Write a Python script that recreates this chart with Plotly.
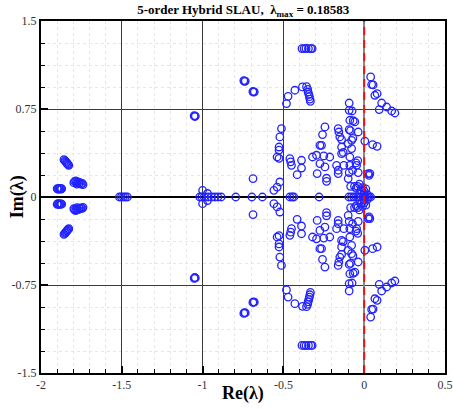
import plotly.graph_objects as go

# Eigenvalues: upper half-plane
upper_re = [-1.858, -1.852, -1.848, -1.843, -1.840, -1.836, -1.832, -1.828,
            -1.900, -1.896, -1.890, -1.886, -1.882, -1.876, -1.872,
            -1.797, -1.792, -1.785, -1.780, -1.778, -1.770, -1.765, -1.758, -1.752, -1.745, -1.740,
            -1.052, -1.049, -1.045, -0.745, -0.741, -0.736, -0.689, -0.685, -0.680, -0.688, -1.000, -0.970,
            -0.385, -0.372, -0.360, -0.345, -0.330, -0.322,
            -0.481, -0.471, -0.429, -0.382, -0.357, -0.350, -0.347, -0.343, -0.339, -0.336, -0.333,
            0.040, 0.046, 0.055, 0.066, 0.080, 0.108, 0.093, 0.139, 0.170, 0.190,
            0.004, 0.052, 0.080,
            -0.093, -0.093, -0.075, -0.089, -0.068, -0.058,
            -0.093, -0.085, -0.037, -0.078, -0.070,
            -0.512, -0.522, -0.527, -0.527, -0.539, -0.527, -0.522, -0.539, -0.559,
            -0.460, -0.450, -0.388, -0.388, -0.415, -0.455,
            -0.320, -0.295, -0.243, -0.258, -0.274, -0.264,
            -0.250, -0.213, -0.274, -0.243, -0.291, -0.233,
            -0.161, -0.151, -0.157, -0.140, -0.140, -0.140, -0.130, -0.171, -0.161, -0.126, -0.161,
            -0.099, -0.078, -0.089, -0.089, -0.072, -0.093, -0.047, -0.037, -0.051, -0.040,
            -0.233, -0.099, -0.084, -0.060, -0.050, -0.040,
            -0.030, -0.020, -0.010, 0.000, 0.010,
            0.025, 0.035, 0.030,
            -0.028, 0.000, 0.020]
upper_im = [0.318, 0.310, 0.303, 0.296, 0.288, 0.282, 0.276, 0.270,
            0.072, 0.066, 0.074, 0.067, 0.073, 0.068, 0.071,
            0.122, 0.132, 0.138, 0.125, 0.110, 0.128, 0.115, 0.122, 0.110, 0.116, 0.106,
            0.693, 0.686, 0.690, 0.992, 0.985, 0.988, 0.899, 0.893, 0.896, 0.157, 0.057, 0.030,
            1.265, 1.265, 1.266, 1.265, 1.265, 1.265,
            0.796, 0.858, 0.910, 0.938, 0.940, 0.918, 0.895, 0.875, 0.855, 0.835, 0.815,
            1.023, 0.958, 0.955, 0.867, 0.881, 0.801, 0.745, 0.767, 0.733, 0.716,
            0.477, 0.447, 0.432,
            0.801, 0.739, 0.733, 0.654, 0.650, 0.640,
            0.575, 0.565, 0.554, 0.483, 0.500,
            0.583, 0.512, 0.426, 0.400, 0.341, 0.330, 0.128, 0.085, 0.057,
            0.327, 0.270, 0.313, 0.247, 0.190, 0.300,
            0.341, 0.356, 0.597, 0.532, 0.440, 0.440,
            0.350, 0.341, 0.285, 0.256, 0.200, 0.134,
            0.583, 0.512, 0.554, 0.489, 0.426, 0.370, 0.380, 0.270, 0.200, 0.270, 0.228,
            0.455, 0.413, 0.341, 0.270, 0.228, 0.208, 0.270, 0.208, 0.290, 0.310,
            0.160, 0.157, 0.091, 0.090, 0.075, 0.090,
            0.110, 0.060, 0.080, 0.050, 0.070,
            0.200, 0.200, 0.185,
            0.030, 0.025, 0.020]

# Eigenvalues on the real axis
real_re = [-1.515, -1.503, -1.490, -1.478, -1.465,
           -1.018, -1.005, -0.990, -0.965, -0.945, -0.925, -0.905, -0.885,
           -0.795, -0.695, -0.630, -0.460, -0.445, -0.435, -0.279,
           -0.095, -0.080, -0.065, -0.050, -0.035, -0.020, -0.008, 0.005, 0.018, 0.030, 0.040]
real_im = [0.0] * 31

# Lower half-plane
lower_re = [-1.858, -1.852, -1.848, -1.843, -1.840, -1.836, -1.832, -1.828,
            -1.900, -1.896, -1.890, -1.886, -1.882, -1.876, -1.872,
            -1.797, -1.792, -1.785, -1.780, -1.778, -1.770, -1.765, -1.758, -1.752, -1.745, -1.740,
            -1.052, -1.049, -1.045, -0.745, -0.741, -0.736, -0.689, -0.685, -0.680, -0.688, -1.000, -0.970,
            -0.385, -0.372, -0.360, -0.345, -0.330, -0.322,
            -0.481, -0.471, -0.429, -0.382, -0.357, -0.350, -0.347, -0.343, -0.339, -0.336, -0.333,
            0.040, 0.046, 0.055, 0.066, 0.080, 0.108, 0.093, 0.139, 0.170, 0.190,
            0.004, 0.052, 0.080,
            -0.093, -0.093, -0.075, -0.089, -0.068, -0.058,
            -0.093, -0.085, -0.037, -0.078, -0.070,
            -0.512, -0.522, -0.527, -0.527, -0.539, -0.527, -0.522, -0.539, -0.559,
            -0.460, -0.450, -0.388, -0.388, -0.415, -0.455,
            -0.320, -0.295, -0.243, -0.258, -0.274, -0.264,
            -0.250, -0.213, -0.274, -0.243, -0.291, -0.233,
            -0.161, -0.151, -0.157, -0.140, -0.140, -0.140, -0.130, -0.171, -0.161, -0.126, -0.161,
            -0.099, -0.078, -0.089, -0.089, -0.072, -0.093, -0.047, -0.037, -0.051, -0.040,
            -0.233, -0.099, -0.084, -0.060, -0.050, -0.040,
            -0.030, -0.020, -0.010, 0.000, 0.010,
            0.025, 0.035, 0.030,
            -0.028, 0.000, 0.020]
lower_im = [-0.318, -0.310, -0.303, -0.296, -0.288, -0.282, -0.276, -0.270,
            -0.062, -0.056, -0.064, -0.057, -0.063, -0.058, -0.061,
            -0.100, -0.110, -0.116, -0.104, -0.090, -0.108, -0.095, -0.102, -0.092, -0.097, -0.088,
            -0.693, -0.686, -0.690, -0.992, -0.985, -0.988, -0.899, -0.893, -0.896, -0.150, -0.057, -0.030,
            -1.265, -1.265, -1.266, -1.265, -1.265, -1.265,
            -0.792, -0.853, -0.909, -0.932, -0.935, -0.915, -0.893, -0.873, -0.853, -0.833, -0.813,
            -1.023, -0.958, -0.955, -0.867, -0.881, -0.801, -0.745, -0.767, -0.733, -0.716,
            -0.454, -0.440, -0.426,
            -0.801, -0.739, -0.733, -0.654, -0.650, -0.640,
            -0.575, -0.565, -0.554, -0.483, -0.500,
            -0.583, -0.512, -0.426, -0.400, -0.341, -0.330, -0.128, -0.085, -0.057,
            -0.327, -0.270, -0.313, -0.247, -0.190, -0.300,
            -0.341, -0.356, -0.597, -0.532, -0.440, -0.440,
            -0.350, -0.341, -0.285, -0.256, -0.200, -0.134,
            -0.583, -0.512, -0.554, -0.489, -0.426, -0.370, -0.380, -0.270, -0.200, -0.270, -0.228,
            -0.455, -0.413, -0.341, -0.270, -0.228, -0.208, -0.270, -0.208, -0.290, -0.310,
            -0.160, -0.157, -0.091, -0.090, -0.075, -0.090,
            -0.110, -0.060, -0.080, -0.050, -0.070,
            -0.184, -0.184, -0.170,
            -0.030, -0.025, -0.020]

x_ticks = [-2, -1.5, -1, -0.5, 0, 0.5]
x_labels = ["-2", "-1.5", "-1", "-0.5", "0", "0.5"]
y_ticks = [-1.5, -0.75, 0, 0.75, 1.5]
y_labels = ["-1.5", "-0.75", "0", "0.75", "1.5"]

SERIF = "Liberation Serif, Times New Roman, DejaVu Serif, serif"
BLUE = "rgb(35,35,255)"

marker = dict(symbol="circle-open", size=7.5, color=BLUE, line=dict(width=1.3, color=BLUE))

fig = go.Figure()
for xs, ys in [(upper_re, upper_im), (real_re, real_im), (lower_re, lower_im)]:
    fig.add_trace(go.Scatter(x=xs, y=ys, mode="markers", marker=marker,
                             showlegend=False, hoverinfo="x+y"))

fig.add_shape(type="line", x0=0, x1=0, y0=-1.5, y1=1.5, xref="x", yref="y",
              line=dict(color="rgb(230,20,20)", width=2, dash="8px,5px"), layer="above")

axis_common = dict(
    showline=True, linecolor="black", linewidth=2, mirror=True,
    ticks="inside", ticklen=7, tickwidth=2, tickcolor="black",
    showgrid=True, gridcolor="#3a3a3a", gridwidth=1,
    tickfont=dict(family=SERIF, size=12, color="#333"),
    automargin=False,
)

fig.update_xaxes(
    range=[-2, 0.5], tickvals=x_ticks, ticktext=x_labels,
    zeroline=True, zerolinecolor="#888", zerolinewidth=2,
    minor=dict(dtick=0.1, tick0=0, ticks="inside", ticklen=4, tickwidth=1, tickcolor="black",
               showgrid=True, gridcolor="#e6e6e6", griddash="dot", gridwidth=1),
    **axis_common)
fig.update_yaxes(
    range=[-1.5, 1.5], tickvals=y_ticks, ticktext=y_labels,
    zeroline=True, zerolinecolor="black", zerolinewidth=1.5,
    minor=dict(dtick=0.1875, tick0=0, ticks="inside", ticklen=4, tickwidth=1, tickcolor="black",
               showgrid=True, gridcolor="#e6e6e6", griddash="dot", gridwidth=1),
    **axis_common)

fig.add_annotation(text="<b>Re(λ)</b>", xref="paper", yref="paper", x=0.5, y=-0.058,
                   xanchor="center", yanchor="middle", showarrow=False,
                   font=dict(family=SERIF, size=18, color="black"))
fig.add_annotation(text="<b>Im(λ)</b>", xref="paper", yref="paper", x=-0.059, y=0.5,
                   xanchor="center", yanchor="middle", showarrow=False, textangle=-90,
                   font=dict(family=SERIF, size=18, color="black"))

fig.update_layout(
    width=453, height=412,
    margin=dict(l=41, r=8, t=21, b=39),
    paper_bgcolor="white", plot_bgcolor="white",
    title=dict(text="<b>5-order Hybrid SLAU,  λ<sub>max</sub> = 0.18583</b>",
               x=0.537, xanchor="center", y=0.976, yanchor="middle", yref="container",
               font=dict(family=SERIF, size=13, color="black")),
)

fig.write_html("out.html")
